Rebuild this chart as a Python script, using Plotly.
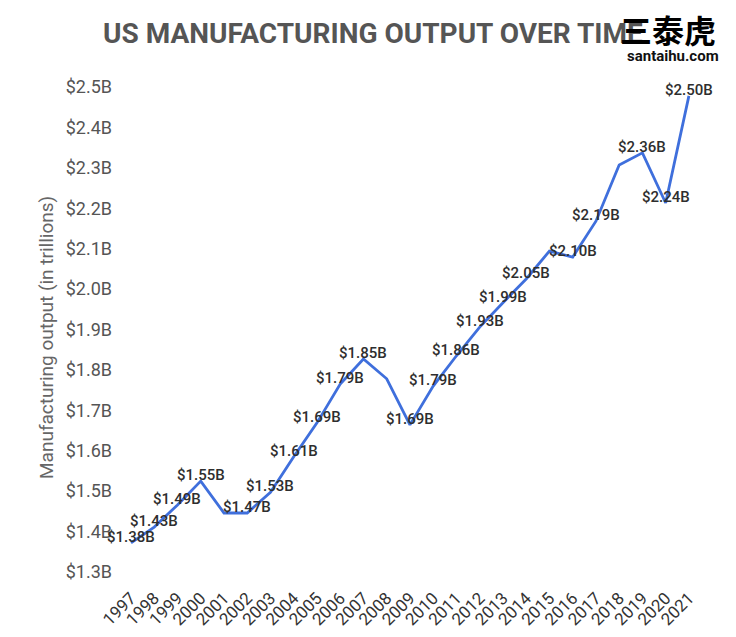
import plotly.graph_objects as go

years = [1997, 1998, 1999, 2000, 2001, 2002, 2003, 2004, 2005, 2006, 2007, 2008, 2009,
         2010, 2011, 2012, 2013, 2014, 2015, 2016, 2017, 2018, 2019, 2020, 2021]
output = [1.372, 1.411, 1.466, 1.525, 1.446, 1.446, 1.497, 1.585, 1.669, 1.765, 1.827, 1.778, 1.664,
          1.760, 1.835, 1.906, 1.966, 2.025, 2.094, 2.079, 2.168, 2.307, 2.337, 2.213, 2.478]
point_labels = ["$1.38B", "$1.43B", "$1.49B", "$1.55B", "", "$1.47B", "$1.53B", "$1.61B", "$1.69B",
                "$1.79B", "$1.85B", "", "$1.69B", "$1.79B", "$1.86B", "$1.93B", "$1.99B", "$2.05B",
                "", "$2.10B", "$2.19B", "", "$2.36B", "$2.24B", "$2.50B"]
y_ticks = [1.3, 1.4, 1.5, 1.6, 1.7, 1.8, 1.9, 2.0, 2.1, 2.2, 2.3, 2.4, 2.5]
y_tick_labels = ["$%.1fB" % v for v in y_ticks]

title_text = "US MANUFACTURING OUTPUT OVER TIME"
y_title = "Manufacturing output (in trillions)"

fig = go.Figure()
fig.add_trace(go.Scatter(
    x=years, y=output, mode="lines",
    line=dict(color="#3f6fdc", width=2.8),
    hoverinfo="skip", showlegend=False,
))

annotations = []
for yr, v, lab in zip(years, output, point_labels):
    if lab:
        annotations.append(dict(
            x=yr, y=v, text=lab, showarrow=False, yshift=6,
            font=dict(family="Roboto", size=15, color="#2e2e2e", weight=500),
        ))

annotations.append(dict(
    xref="paper", yref="paper", x=0, y=0.5, xanchor="center", yanchor="middle",
    xshift=-75, yshift=-13,
    text=y_title, textangle=-90, showarrow=False,
    font=dict(family="Roboto", size=19, color="#666666"),
))
annotations.append(dict(
    xref="paper", yref="paper", x=0.5, y=1, xanchor="center", yanchor="middle",
    xshift=-38, yshift=37, text="<b>" + title_text + "</b>", showarrow=False,
    font=dict(family="Roboto", size=28, color="#555555"),
))
annotations.append(dict(
    xref="paper", yref="paper", x=1, y=1, xanchor="center", yanchor="middle",
    xshift=-33, yshift=41, text="<b>三泰虎</b>", showarrow=False,
    font=dict(family="Noto Sans CJK SC", size=32, color="#000000"),
))
annotations.append(dict(
    xref="paper", yref="paper", x=1, y=1, xanchor="center", yanchor="middle",
    xshift=-28, yshift=14, text="<b>santaihu.com</b>", showarrow=False,
    font=dict(family="Roboto", size=15, color="#111111"),
))

fig.update_layout(
    width=736, height=637,
    margin=dict(l=113, r=43, t=62, b=65),
    paper_bgcolor="white", plot_bgcolor="white",
    annotations=annotations,
    xaxis=dict(
        range=[1996.57, 2021.52], tickmode="array", tickvals=years,
        ticktext=[str(y) for y in years], tickangle=-45,
        ticklabelstandoff=4,
        showgrid=False, zeroline=False, showline=False, ticks="",
        tickfont=dict(family="Roboto", size=17, color="#333333"),
        automargin=False,
    ),
    yaxis=dict(
        range=[1.2802, 2.542], tickmode="array", tickvals=y_ticks,
        ticktext=y_tick_labels, ticklabelstandoff=8,
        showgrid=False, zeroline=False, showline=False, ticks="",
        tickfont=dict(family="Roboto", size=18, color="#555555"),
        automargin=False,
    ),
)

fig.write_html("out.html")
